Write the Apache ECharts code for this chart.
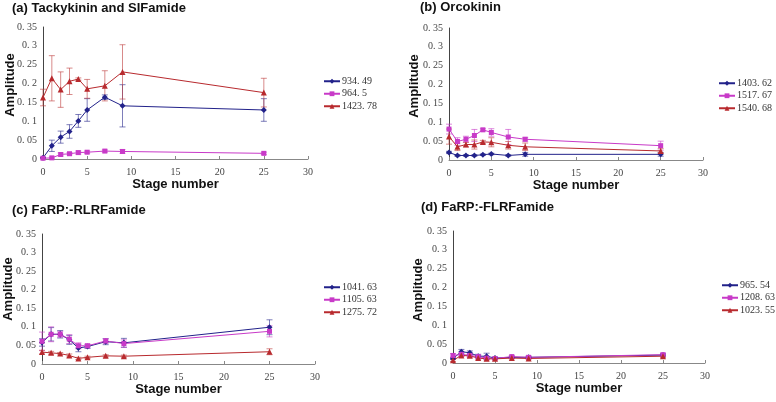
<!DOCTYPE html>
<html>
<head>
<meta charset="utf-8">
<script src="https://cdn.jsdelivr.net/npm/echarts@6/dist/echarts.min.js"></script>
<style>html,body{margin:0;padding:0;background:#fff;}#c{width:776px;height:402px;}</style>
</head>
<body>
<div id="c"></div>
<script>
// ---- data ----
var stages = [0, 1, 2, 3, 4, 5, 7, 9, 25];
var titles = ['(a) Tackykinin and SIFamide', '(b) Orcokinin', '(c) FaRP:-RLRFamide', '(d) FaRP:-FLRFamide'];
var yTicks = [0, 0.05, 0.1, 0.15, 0.2, 0.25, 0.3, 0.35];
var xTicks = [0, 5, 10, 15, 20, 25, 30];

var aNames = ['934.49', '964.5', '1423.78'];
var aBlue = [0.003, 0.035, 0.058, 0.073, 0.101, 0.130, 0.164, 0.141, 0.130];
var aBlueErr = [0.002, 0.015, 0.016, 0.018, 0.017, 0.030, 0.006, 0.056, 0.030];
var aMag = [0.002, 0.003, 0.012, 0.014, 0.017, 0.018, 0.021, 0.020, 0.015];
var aMagErr = [0.002, 0.002, 0.004, 0.003, 0.004, 0.003, 0.003, 0.005, 0.003];
var aRed = [0.163, 0.214, 0.184, 0.206, 0.212, 0.186, 0.194, 0.231, 0.176];
var aRedErr = [0.022, 0.060, 0.047, 0.035, 0.003, 0.025, 0.040, 0.072, 0.038];

var bNames = ['1403.62', '1517.67', '1540.68'];
var bBlue = [0.020, 0.012, 0.012, 0.012, 0.014, 0.016, 0.012, 0.015, 0.015];
var bBlueErr = [0.003, 0.002, 0.002, 0.002, 0.002, 0.002, 0.002, 0.005, 0.005];
var bMag = [0.082, 0.049, 0.055, 0.065, 0.080, 0.073, 0.061, 0.055, 0.038];
var bMagErr = [0.013, 0.010, 0.008, 0.016, 0.003, 0.010, 0.020, 0.005, 0.012];
var bRed = [0.062, 0.035, 0.041, 0.041, 0.048, 0.047, 0.039, 0.035, 0.024];
var bRedErr = [0.020, 0.010, 0.006, 0.012, 0.004, 0.012, 0.010, 0.010, 0.006];

var cNames = ['1041.63', '1105.63', '1275.72'];
var cBlue = [0.058, 0.080, 0.080, 0.065, 0.043, 0.047, 0.060, 0.057, 0.099];
var cBlueErr = [0.010, 0.018, 0.010, 0.012, 0.010, 0.005, 0.008, 0.012, 0.020];
var cMag = [0.061, 0.080, 0.080, 0.067, 0.049, 0.049, 0.062, 0.055, 0.088];
var cMagErr = [0.025, 0.020, 0.008, 0.012, 0.008, 0.005, 0.006, 0.010, 0.015];
var cRed = [0.032, 0.030, 0.028, 0.023, 0.015, 0.018, 0.022, 0.021, 0.033];
var cRedErr = [0.005, 0.004, 0.003, 0.004, 0.003, 0.003, 0.003, 0.003, 0.008];

var dNames = ['965.54', '1208.63', '1023.55'];
var dBlue = [0.012, 0.030, 0.027, 0.018, 0.018, 0.013, 0.015, 0.015, 0.021];
var dBlueErr = [0.003, 0.006, 0.005, 0.005, 0.008, 0.003, 0.003, 0.003, 0.004];
var dMag = [0.020, 0.023, 0.020, 0.017, 0.013, 0.012, 0.017, 0.015, 0.022];
var dMagErr = [0.005, 0.004, 0.004, 0.003, 0.003, 0.002, 0.003, 0.003, 0.004];
var dRed = [0.007, 0.020, 0.019, 0.013, 0.011, 0.011, 0.013, 0.012, 0.018];
var dRedErr = [0.003, 0.003, 0.003, 0.003, 0.003, 0.002, 0.002, 0.002, 0.003];

// ---- layout / style ----
var panels = [
  {names: aNames, vals: [aBlue, aMag, aRed], errs: [aBlueErr, aMagErr, aRedErr],
   grid: {left: 43, top: 27, width: 265, height: 132}, title: [12, 2], ampl: [10, 85], legend: [323, 75]},
  {names: bNames, vals: [bBlue, bMag, bRed], errs: [bBlueErr, bMagErr, bRedErr],
   grid: {left: 449, top: 28, width: 254, height: 132}, title: [420, 1], ampl: [414, 86], legend: [718, 77]},
  {names: cNames, vals: [cBlue, cMag, cRed], errs: [cBlueErr, cMagErr, cRedErr],
   grid: {left: 42, top: 234, width: 273, height: 130}, title: [12, 204], ampl: [8, 289], legend: [323, 281]},
  {names: dNames, vals: [dBlue, dMag, dRed], errs: [dBlueErr, dMagErr, dRedErr],
   grid: {left: 453, top: 231, width: 252, height: 132}, title: [421, 201], ampl: [418, 290], legend: [721, 279]}
];
var colors = ['#22228a', '#c83ac8', '#b82a2e'];
var errColors = ['rgba(40,40,140,0.6)', 'rgba(200,60,200,0.6)', 'rgba(190,60,60,0.6)'];
var symbols = ['diamond', 'rect', 'triangle'];
var symSizes = [6, 5, 6];
var serif = 'Liberation Serif';
var sans = 'Liberation Sans';

function fmt(v) { return String(v).replace('.', '. '); }

var grids = [], xAxes = [], yAxes = [], series = [], legends = [], graphics = [];
panels.forEach(function (p, i) {
  grids.push(p.grid);
  xAxes.push({
    type: 'value', gridIndex: i, min: 0, max: 30, interval: 5,
    axisLine: {show: true, onZero: false, lineStyle: {color: '#888', width: 1}},
    axisTick: {show: true, inside: true, length: 3, lineStyle: {color: '#888'}},
    splitLine: {show: false},
    axisLabel: {fontFamily: serif, fontSize: 10, color: '#444', margin: 8},
    name: 'Stage number', nameLocation: 'middle', nameGap: 17,
    nameTextStyle: {fontFamily: sans, fontWeight: 'bold', fontSize: 13, color: '#111'}
  });
  yAxes.push({
    type: 'value', gridIndex: i, min: 0, max: 0.35, interval: 0.05,
    axisLine: {show: true, lineStyle: {color: '#444', width: 1}},
    axisTick: {show: false},
    splitLine: {show: false},
    axisLabel: {fontFamily: serif, fontSize: 10, color: '#444', margin: 6,
      formatter: function (v) { return fmt(+v.toFixed(2)); }}
  });
  graphics.push({type: 'text', left: p.title[0], top: p.title[1],
    style: {text: titles[i], font: 'bold 13px "Liberation Sans"', fill: '#111'}});
  graphics.push({type: 'text', x: p.ampl[0], y: p.ampl[1], rotation: Math.PI / 2,
    style: {text: 'Amplitude', font: 'bold 13px "Liberation Sans"', fill: '#111', align: 'center', verticalAlign: 'middle'}});
  legends.push({
    orient: 'vertical', left: p.legend[0], top: p.legend[1], data: p.names,
    itemWidth: 16, itemHeight: 6, itemGap: 0, padding: 0,
    textStyle: {fontFamily: serif, fontSize: 10, color: '#333', lineHeight: 12.5, padding: [0, 0, 0, -3]},
    formatter: function (n) { return fmt(n); }
  });
  p.names.forEach(function (name, k) {
    var vals = p.vals[k], errs = p.errs[k];
    series.push({
      type: 'custom', xAxisIndex: i, yAxisIndex: i, silent: true, z: 1,
      data: stages.map(function (s, j) { return [s, vals[j] - errs[j], vals[j] + errs[j]]; }),
      renderItem: function (params, api) {
        var lo = api.coord([api.value(0), api.value(1)]);
        var hi = api.coord([api.value(0), api.value(2)]);
        var w = 3;
        var st = {stroke: errColors[k], lineWidth: 1};
        return {type: 'group', children: [
          {type: 'line', shape: {x1: lo[0], y1: lo[1], x2: hi[0], y2: hi[1]}, style: st},
          {type: 'line', shape: {x1: lo[0] - w, y1: lo[1], x2: lo[0] + w, y2: lo[1]}, style: st},
          {type: 'line', shape: {x1: hi[0] - w, y1: hi[1], x2: hi[0] + w, y2: hi[1]}, style: st}
        ]};
      }
    });
    series.push({
      type: 'line', name: name, xAxisIndex: i, yAxisIndex: i, z: 3,
      data: stages.map(function (s, j) { return [s, vals[j]]; }),
      symbol: symbols[k], symbolSize: symSizes[k], showSymbol: true,
      lineStyle: {color: colors[k], width: 1},
      itemStyle: {color: colors[k]}
    });
  });
});

var chart = echarts.init(document.getElementById('c'), null, {renderer: 'canvas'});
chart.setOption({
  animation: false,
  backgroundColor: '#fff',
  grid: grids, xAxis: xAxes, yAxis: yAxes,
  legend: legends, series: series, graphic: graphics
});
</script>
</body>
</html>
